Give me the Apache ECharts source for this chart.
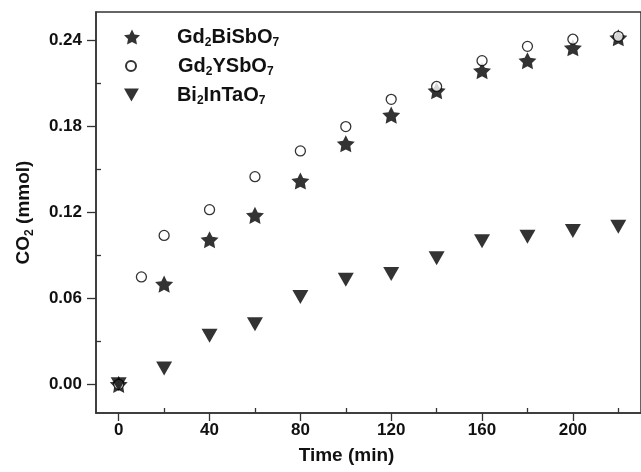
<!DOCTYPE html>
<html>
<head>
<meta charset="utf-8">
<script src="https://cdn.jsdelivr.net/npm/echarts@6/dist/echarts.min.js"></script>
<style>
  html, body { margin: 0; padding: 0; background: #fff; }
  #chart { width: 641px; height: 472px; }
</style>
</head>
<body>
<div id="chart"></div>
<script>
// CO2 evolution over time for three photocatalysts
const timeGdBiSb = [0, 20, 40, 60, 80, 100, 120, 140, 160, 180, 200, 220];
const co2GdBiSb  = [0, 0.070, 0.101, 0.118, 0.142, 0.168, 0.188, 0.205, 0.219, 0.226, 0.235, 0.242];

const timeGdYSb = [0, 10, 20, 40, 60, 80, 100, 120, 140, 160, 180, 200, 220];
const co2GdYSb  = [0, 0.075, 0.104, 0.122, 0.145, 0.163, 0.180, 0.199, 0.208, 0.226, 0.236, 0.241, 0.243];

const timeBiInTa = [0, 20, 40, 60, 80, 100, 120, 140, 160, 180, 200, 220];
const co2BiInTa  = [0, 0.011, 0.034, 0.042, 0.061, 0.073, 0.077, 0.088, 0.100, 0.103, 0.107, 0.110];

const xMajorTicks = [0, 40, 80, 120, 160, 200];
const xMinorTicks = [20, 60, 100, 140, 180, 220];
const yMajorTicks = [0, 0.06, 0.12, 0.18, 0.24];
const yMinorTicks = [0.03, 0.09, 0.15, 0.21];

const seriesNames = ['Gd2BiSbO7', 'Gd2YSbO7', 'Bi2InTaO7'];
const legendLabels = ['Gd{s|2}BiSbO{s|7}', 'Gd{s|2}YSbO{s|7}', 'Bi{s|2}InTaO{s|7}'];

const pairs = (xs, ys) => xs.map((x, i) => [x, ys[i]]);

const FONT = '"Liberation Sans", Arial, sans-serif';
const INK = '#111';
const FRAME = '#333';
// five-pointed star marker, fairly stout
const STAR = 'path://M50,0 L64.69,29.77 L97.55,34.55 L73.78,57.73 L79.39,90.45 L50,75 L20.61,90.45 L26.22,57.73 L2.45,34.55 L35.31,29.77 Z';
const DOWN_TRIANGLE = 'path://M0,0 L16,0 L8,14 Z';

const subRich = {
  s: { fontSize: 12, fontWeight: 'bold', fontFamily: FONT, color: INK, padding: [12, 0, 0, 0] }
};

function legendFor(i, left, top, w, h, padLeft, icon) {
  return {
    data: [icon ? { name: seriesNames[i], icon: icon } : seriesNames[i]],
    left: left, top: top, orient: 'vertical',
    itemWidth: w, itemHeight: h,
    selectedMode: false,
    formatter: () => legendLabels[i],
    textStyle: {
      fontSize: 20, fontWeight: 'bold', fontFamily: FONT, color: INK,
      padding: [0, 0, 0, padLeft], rich: subRich
    }
  };
}

const minorAxisCommon = {
  type: 'value',
  axisLabel: { show: false },
  splitLine: { show: false }
};

const chart = echarts.init(document.getElementById('chart'), null, { renderer: 'canvas' });

chart.setOption({
  animation: false,
  backgroundColor: '#fff',
  grid: {
    left: 96, top: 12, right: -3, bottom: 59,
    show: true, borderColor: FRAME, borderWidth: 1.5, backgroundColor: 'transparent'
  },
  legend: [
    legendFor(0, 119, 22, 16, 16, 32),
    legendFor(1, 120, 51, 10, 10, 37),
    legendFor(2, 119, 80, 15, 13, 33, DOWN_TRIANGLE)
  ],
  xAxis: [
    {
      type: 'value', min: -10, max: 230, position: 'bottom',
      axisLine: { show: true, onZero: false, lineStyle: { color: FRAME, width: 1.5 } },
      axisTick: { show: true, customValues: xMajorTicks, length: 8, lineStyle: { color: FRAME, width: 1.3 } },
      axisLabel: {
        customValues: xMajorTicks, margin: 9,
        fontSize: 17, fontWeight: 'bold', fontFamily: FONT, color: INK
      },
      splitLine: { show: false },
      name: 'Time (min)', nameLocation: 'middle', nameGap: 33,
      nameTextStyle: {
        fontSize: 19, fontWeight: 'bold', fontFamily: FONT, color: INK,
        padding: [0, 44, 0, 0]
      }
    },
    Object.assign({}, minorAxisCommon, {
      min: -10, max: 230, position: 'bottom',
      axisLine: { show: false, onZero: false },
      axisTick: { show: true, inside: true, customValues: xMinorTicks, length: 5, lineStyle: { color: FRAME, width: 1.3 } }
    })
  ],
  yAxis: [
    {
      type: 'value', min: -0.02, max: 0.26, position: 'left',
      axisLine: { show: true, onZero: false, lineStyle: { color: FRAME, width: 1.5 } },
      axisTick: { show: true, customValues: yMajorTicks, length: 9, lineStyle: { color: FRAME, width: 1.3 } },
      axisLabel: {
        customValues: yMajorTicks, margin: 14,
        formatter: v => v.toFixed(2),
        fontSize: 17, fontWeight: 'bold', fontFamily: FONT, color: INK
      },
      splitLine: { show: false },
      name: 'CO{s|2} (mmol)', nameLocation: 'middle', nameGap: 60, nameRotate: 90,
      nameTextStyle: {
        fontSize: 19, fontWeight: 'bold', fontFamily: FONT, color: INK,
        rich: { s: { fontSize: 12, fontWeight: 'bold', fontFamily: FONT, color: INK, padding: [12, 0, 0, 0] } }
      }
    },
    Object.assign({}, minorAxisCommon, {
      min: -0.02, max: 0.26, position: 'left',
      axisLine: { show: false, onZero: false },
      axisTick: { show: true, inside: true, customValues: yMinorTicks, length: 5, lineStyle: { color: FRAME, width: 1.3 } }
    })
  ],
  series: [
    {
      name: seriesNames[0], type: 'scatter', xAxisIndex: 0, yAxisIndex: 0,
      symbol: STAR, symbolSize: 18, symbolKeepAspect: true,
      itemStyle: { color: '#000' },
      data: pairs(timeGdBiSb, co2GdBiSb), z: 2
    },
    {
      name: seriesNames[1], type: 'scatter', xAxisIndex: 0, yAxisIndex: 0,
      symbol: 'circle', symbolSize: 10,
      itemStyle: { color: '#fff', borderColor: '#000', borderWidth: 1.3 },
      data: pairs(timeGdYSb, co2GdYSb), z: 3
    },
    {
      name: seriesNames[2], type: 'scatter', xAxisIndex: 0, yAxisIndex: 0,
      symbol: 'triangle', symbolRotate: 180, symbolSize: [16, 14],
      itemStyle: { color: '#000' },
      data: pairs(timeBiInTa, co2BiInTa), z: 4
    }
  ]
});
</script>
</body>
</html>
